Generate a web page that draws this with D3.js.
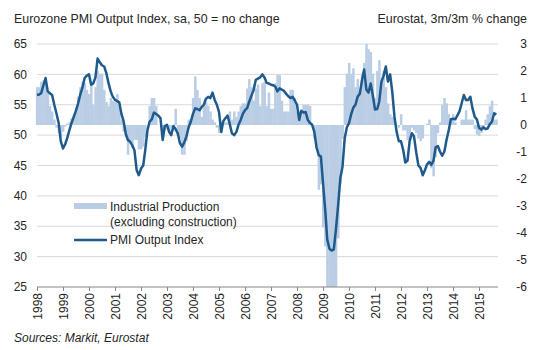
<!DOCTYPE html>
<html>

<head>
	<meta charset='utf-8'>
	<title>Eurozone PMI</title>
	<script type='text/javascript' src='https://cdn.jsdelivr.net/npm/d3@7'></script>
	<style>
		body { margin: 0; background: #fff; }
		text { font-family: 'Liberation Sans', Arial, sans-serif; fill: #262626; }
	</style>
</head>

<body>
	<svg width='535' height='350'></svg>
	<script>
		// monthly, Jan 1998 .. Sep 2015
		const startYear = 1998
		const years = d3.range(1998, 2016)

		// PMI Output Index (left axis)
		const pmi = [
			56.6, 56.7, 56.9, 58.2, 59.4, 57.2, 56.9, 56.6, 55.0, 53.6, 52.0, 49.0,
			47.8, 48.5, 49.5, 50.8, 52.0, 53.0, 54.0, 55.2, 56.7, 57.8, 59.4, 59.8,
			60.0, 58.3, 58.5, 59.5, 62.6, 62.0, 61.5, 61.3, 60.2, 58.6, 57.2, 56.3,
			55.8, 55.6, 55.4, 53.5, 52.3, 50.2, 49.2, 48.9, 48.3, 47.5, 44.2, 43.4,
			44.5, 45.0, 47.5, 50.8, 52.2, 52.6, 53.7, 53.5, 53.2, 52.8, 49.2, 51.5,
			51.7, 50.5, 50.0, 51.5, 51.0, 50.3, 48.7, 48.1, 48.8, 49.8, 51.3, 52.2,
			53.5, 54.4, 54.3, 54.1, 54.6, 55.0, 56.0, 56.3, 56.1, 57.0, 55.8, 55.0,
			53.8, 50.5, 52.3, 52.8, 53.2, 51.8, 50.3, 50.0, 50.5, 51.7, 52.5, 53.5,
			54.1, 54.5, 55.5, 56.5, 57.4, 59.1, 59.3, 59.5, 60.0, 59.5, 58.6, 58.5,
			58.3, 58.2, 58.0, 57.2, 57.7, 57.5, 57.3, 56.8, 56.4, 56.1, 56.3, 55.7,
			55.0, 52.5, 54.0, 53.7, 53.8, 52.5, 52.0, 51.7, 50.5, 48.0, 46.7, 46.5,
			42.0, 37.5, 32.8, 31.3, 31.0, 31.2, 34.5, 38.5, 43.0, 44.8, 49.5, 51.3,
			52.0, 53.5, 54.5, 55.0, 56.3, 56.8, 59.0, 60.8, 57.5, 57.0, 58.5, 56.5,
			54.2, 54.3, 55.5, 58.8, 59.8, 61.3, 58.8, 60.0, 57.0, 53.0, 50.5, 49.0,
			49.0, 47.5, 45.5, 45.8, 49.0, 50.3, 49.8, 47.2, 45.0, 44.6, 43.4, 44.2,
			45.2, 45.6, 45.1, 45.8, 48.0, 48.2, 47.3, 46.6, 47.3, 49.2, 50.8, 52.6,
			52.7, 52.6, 53.2, 53.9, 55.2, 56.6, 55.8, 55.8, 56.3, 54.4, 53.0, 52.6,
			51.2, 50.9, 51.3, 51.0, 51.1, 51.8, 52.2, 53.6, 53.4
		]

		// Industrial production, 3m/3m % change (right axis)
		const ip = [
			1.4, 1.4, 1.6, 1.65, 1.55, 1.2, 0.7, 0.5, 0.2, -0.1, -0.3, -0.45,
			-0.25, -0.05, 0.05, 0.1, 0.25, 0.35, 0.6, 1.05, 1.4, 1.6, 1.55, 1.3,
			1.15, 1.55, 0.75, 1.4, 2.0, 1.9, 1.9, 1.3, 0.85, 0.7, 1.0, 0.9,
			0.85, 1.15, 0.7, 0.2, -0.25, -0.45, -1.1, -0.6, -0.85, -0.55, -0.55, -0.9,
			-0.9, -0.8, -0.45, 0.0, 0.7, 1.0, 1.0, 0.7, 0.0, 0.0, -0.2, -0.2,
			-0.15, -0.3, -0.1, -0.2, 0.6, -0.4, -0.5, -1.1, -1.1, -0.6, 0.2, 0.2,
			1.0, 1.8, 1.3, 1.0, 0.3, 0.7, 0.85, 0.7, 0.5, 0.2, 0.1, -0.1,
			-0.3, -0.2, 0.1, 0.1, 0.1, 0.5, 0.2, 0.5, 0.3, 0.5, 0.7, 0.8,
			0.8, 1.35, 1.7, 1.4, 0.9, 1.35, 1.5, 0.7, 1.55, 1.6, 0.7, 1.2,
			0.6, 0.6, 1.55, 1.85, 1.85, 0.9, 0.5, 0.5, 0.5, 1.3, 1.3, 1.0,
			0.5, 0.5, 0.5, 0.75, 0.75, 0.75, 0.7, 0.0, -0.5, -0.9, -2.4, -2.2,
			-3.8, -4.5, -6.5, -8.0, -8.5, -7.0, -6.2, -4.2, -2.2, -0.5, 1.4, 1.9,
			2.3, 1.9, 2.1, 1.4, 1.7, 1.2, 1.9, 2.3, 3.0, 2.8, 2.7, 1.9,
			1.0, 2.0, 2.4, 1.6, 2.0, 1.4, 0.8, 0.4, 0.3, 0.3, 0.0, -0.1,
			0.4, -0.2, -0.2, -0.55, -0.55, -0.1, -0.2, -0.3, -0.5, -0.6, -0.5, 0.0,
			0.05, 0.2, -1.6, -1.9, -1.2, -0.3, 0.1, 0.75, 1.0, 0.8, 0.4, 0.2,
			0.4, 0.1, 0.0, 0.0, 0.2, 0.2, 0.55, 0.2, 0.2, 0.2, -0.15, -0.35,
			-0.4, -0.3, -0.1, 0.2, 0.4, 0.7, 0.9, 0.2, 0.2
		]

		const leftTicks = [25, 30, 35, 40, 45, 50, 55, 60, 65]
		const rightTicks = [-6, -5, -4, -3, -2, -1, 0, 1, 2, 3]

		const svg = d3.select('svg')
		const plot = { left: 37, right: 498, top: 44, bottom: 287 }
		const barColor = '#b9cde5'
		const lineColor = '#1f5a8c'

		const data = pmi.map((v, i) => ({ date: new Date(startYear, i, 1), pmi: v, ip: ip[i] }))

		const x = d3.scaleTime()
			.domain([new Date(1998, 0, 1), new Date(2015, 8, 24)])
			.range([plot.left, plot.right])
		const yL = d3.scaleLinear().domain([25, 65]).range([plot.bottom, plot.top])
		const yR = d3.scaleLinear().domain([-6, 3]).range([plot.bottom, plot.top]).clamp(true)

		// horizontal grid
		svg.append('g')
			.selectAll('line')
			.data(leftTicks.filter(d => d > 25))
			.join('line')
			.attr('x1', plot.left).attr('x2', plot.right)
			.attr('y1', d => yL(d)).attr('y2', d => yL(d))
			.attr('stroke', '#d9d9d9')

		// bars
		const bw = x(new Date(1998, 1, 1)) - x(new Date(1998, 0, 1))
		svg.append('g')
			.attr('fill', barColor)
			.selectAll('rect')
			.data(data)
			.join('rect')
			.attr('x', d => x(d.date) - bw / 2)
			.attr('width', bw + 0.3)
			.attr('y', d => Math.min(yR(d.ip), yR(0)))
			.attr('height', d => Math.abs(yR(d.ip) - yR(0)))

		// x axis
		const xAxis = d3.axisBottom(x)
			.tickValues(years.map(y => new Date(y, 0, 1)))
			.tickSize(4)
			.tickFormat(d3.timeFormat('%Y'))
		const gx = svg.append('g')
			.attr('transform', `translate(0,${plot.bottom})`)
			.call(xAxis)
		gx.select('.domain').attr('stroke', '#868686').attr('d', `M${plot.left},0H${plot.right}`)
		gx.selectAll('.tick line').attr('stroke', '#868686')
		gx.selectAll('.tick text')
			.attr('font-size', 12)
			.attr('fill', '#262626')
			.attr('transform', 'rotate(-90)')
			.attr('text-anchor', 'end')
			.attr('x', -6)
			.attr('y', 0)
			.attr('dy', '0.35em')

		// left / right tick labels
		svg.append('g')
			.selectAll('text')
			.data(leftTicks)
			.join('text')
			.attr('x', 27)
			.attr('y', d => yL(d))
			.attr('dy', '0.35em')
			.attr('text-anchor', 'end')
			.attr('font-size', 12)
			.text(d => d)

		svg.append('g')
			.selectAll('text')
			.data(rightTicks)
			.join('text')
			.attr('x', 527)
			.attr('y', d => yR(d))
			.attr('dy', '0.35em')
			.attr('text-anchor', 'end')
			.attr('font-size', 12)
			.text(d => d)

		// PMI line
		const line = d3.line()
			.x(d => x(d.date))
			.y(d => yL(d.pmi))
		svg.append('path')
			.datum(data)
			.attr('fill', 'none')
			.attr('stroke', lineColor)
			.attr('stroke-width', 2.5)
			.attr('stroke-linejoin', 'round')
			.attr('d', line)

		// titles
		svg.append('text')
			.attr('x', 14).attr('y', 23)
			.attr('font-size', 12.4)
			.text('Eurozone PMI Output Index, sa, 50 = no change')
		svg.append('text')
			.attr('x', 527).attr('y', 23)
			.attr('text-anchor', 'end')
			.attr('font-size', 12.4)
			.text('Eurostat, 3m/3m % change')

		// legend
		const lg = svg.append('g')
		lg.append('rect')
			.attr('x', 74).attr('y', 203).attr('width', 33).attr('height', 6)
			.attr('fill', barColor)
		lg.append('text').attr('x', 110).attr('y', 211).attr('font-size', 12).text('Industrial Production')
		lg.append('text').attr('x', 110).attr('y', 226).attr('font-size', 12).text('(excluding construction)')
		lg.append('line')
			.attr('x1', 74).attr('x2', 107).attr('y1', 240).attr('y2', 240)
			.attr('stroke', lineColor).attr('stroke-width', 2.5)
		lg.append('text').attr('x', 110).attr('y', 244).attr('font-size', 12).text('PMI Output Index')

		// source
		svg.append('text')
			.attr('x', 14).attr('y', 342)
			.attr('font-size', 12)
			.attr('font-style', 'italic')
			.text('Sources: Markit, Eurostat')
	</script>
</body>

</html>
